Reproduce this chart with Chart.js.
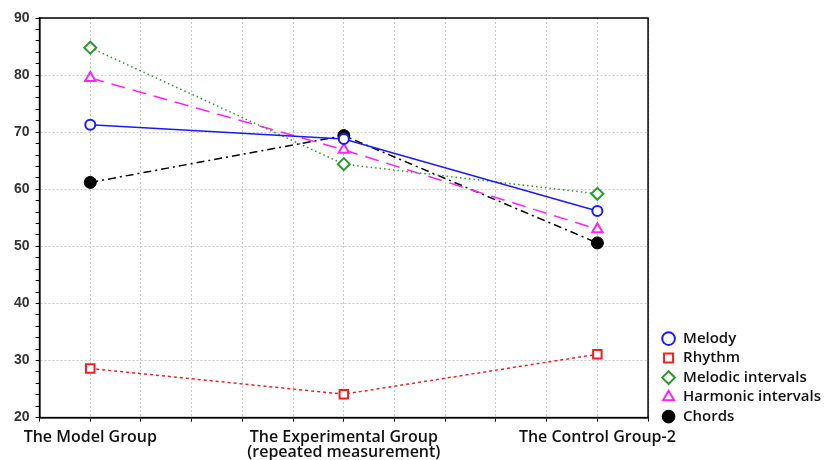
<!DOCTYPE html>
<html>
<head>
<meta charset="utf-8">
<script src="https://cdn.jsdelivr.net/npm/chart.js@4"></script>
<style>
  html, body { margin: 0; padding: 0; background: #fff; }
  #wrap { width: 832px; height: 460px; }
</style>
</head>
<body>
<div id="wrap"><canvas id="line-chart" width="832" height="460"></canvas></div>
<script>
var groups = [["The Model Group"], ["The Experimental Group", "(repeated measurement)"], ["The Control Group-2"]];
var melody = [71.3, 68.8, 56.2];
var rhythm = [28.6, 24.1, 31.1];
var melodicIntervals = [84.8, 64.4, 59.2];
var harmonicIntervals = [79.5, 66.9, 53.0];
var chords = [61.2, 69.4, 50.6];

function points(values) {
  return values.map(function (v, i) { return { x: i, y: v }; });
}

// box round the plot area, and legend moved next to the plot bottom
var frame = {
  id: 'frame',
  afterLayout: function (chart) {
    chart.legend.left = chart.chartArea.right + 9;
    chart.legend.bottom = chart.chartArea.bottom + 11;
  },
  afterDraw: function (chart) {
    var a = chart.chartArea, ctx = chart.ctx;
    ctx.save();
    ctx.strokeStyle = '#000';
    ctx.lineWidth = 1.5;
    ctx.strokeRect(a.left, a.top, a.right - a.left, a.bottom - a.top);
    ctx.restore();
  }
};

new Chart(document.getElementById("line-chart"), {
  type: 'line',
  data: {
    datasets: [
      {
        label: "Melody",
        data: points(melody),
        borderColor: "#1a1aff",
        borderWidth: 1.5,
        pointStyle: 'circle',
        pointRadius: 5,
        pointBorderWidth: 2,
        pointBackgroundColor: '#fff',
        fill: false
      }, {
        label: "Rhythm",
        data: points(rhythm),
        borderColor: "#f02020",
        borderWidth: 1.5,
        borderDash: [3, 3],
        pointStyle: 'rect',
        pointRadius: 6,
        pointBorderWidth: 2,
        pointBackgroundColor: '#fff',
        fill: false
      }, {
        label: "Melodic intervals",
        data: points(melodicIntervals),
        borderColor: "#2a9a2a",
        borderWidth: 1.5,
        borderDash: [1.5, 3],
        pointStyle: 'rectRot',
        pointRadius: 6,
        pointBorderWidth: 2,
        pointBackgroundColor: '#fff',
        fill: false
      }, {
        label: "Harmonic intervals",
        data: points(harmonicIntervals),
        borderColor: "#ff22ff",
        borderWidth: 1.5,
        borderDash: [14, 8],
        pointStyle: 'triangle',
        pointRadius: 6,
        pointBorderWidth: 2,
        pointBackgroundColor: '#fff',
        fill: false
      }, {
        label: "Chords",
        data: points(chords),
        borderColor: "#000",
        borderWidth: 1.5,
        borderDash: [8, 4, 2, 4],
        pointStyle: 'circle',
        pointRadius: 6,
        pointBorderWidth: 1,
        pointBackgroundColor: '#000',
        fill: false
      }
    ]
  },
  options: {
    responsive: false,
    animation: false,
    layout: { padding: { top: 18, right: 10, left: 8, bottom: -8 } },
    plugins: {
      legend: {
        position: 'right',
        align: 'end',
        labels: {
          usePointStyle: true,
          boxWidth: 14,
          boxHeight: 9,
          padding: 4.5,
          color: '#111',
          font: { family: 'Open Sans', size: 15, weight: '600' }
        }
      },
      tooltip: { enabled: false }
    },
    scales: {
      x: {
        type: 'linear',
        min: -0.2,
        max: 2.2,
        ticks: {
          stepSize: 0.2,
          autoSkip: false,
          maxRotation: 0,
          color: '#111',
          font: { family: 'Open Sans', size: 16, weight: '600', lineHeight: 0.95 },
          padding: 8,
          callback: function (v) {
            var k = Math.round(v * 10);
            if (k % 10 === 0 && k >= 0 && k <= 20) return groups[k / 10];
            return '';
          }
        },
        grid: {
          color: '#c8c8c8',
          tickColor: '#000',
          tickLength: 4
        },
        border: { color: '#000', width: 1.5, dash: [2, 2] }
      },
      y: {
        min: 20,
        max: 90,
        ticks: {
          stepSize: 2,
          autoSkip: false,
          color: '#333',
          font: { family: 'Arial', size: 14, weight: 'bold' },
          padding: 6,
          callback: function (v) {
            return Math.round(v) % 10 === 0 ? v : '';
          }
        },
        grid: {
          color: function (c) {
            return Math.round(c.tick.value) % 10 === 0 ? '#c8c8c8' : 'rgba(0,0,0,0)';
          },
          tickColor: '#000',
          tickLength: 4
        },
        border: { color: '#000', width: 1.5, dash: [2, 2] }
      }
    }
  },
  plugins: [frame]
});
</script>
</body>
</html>
